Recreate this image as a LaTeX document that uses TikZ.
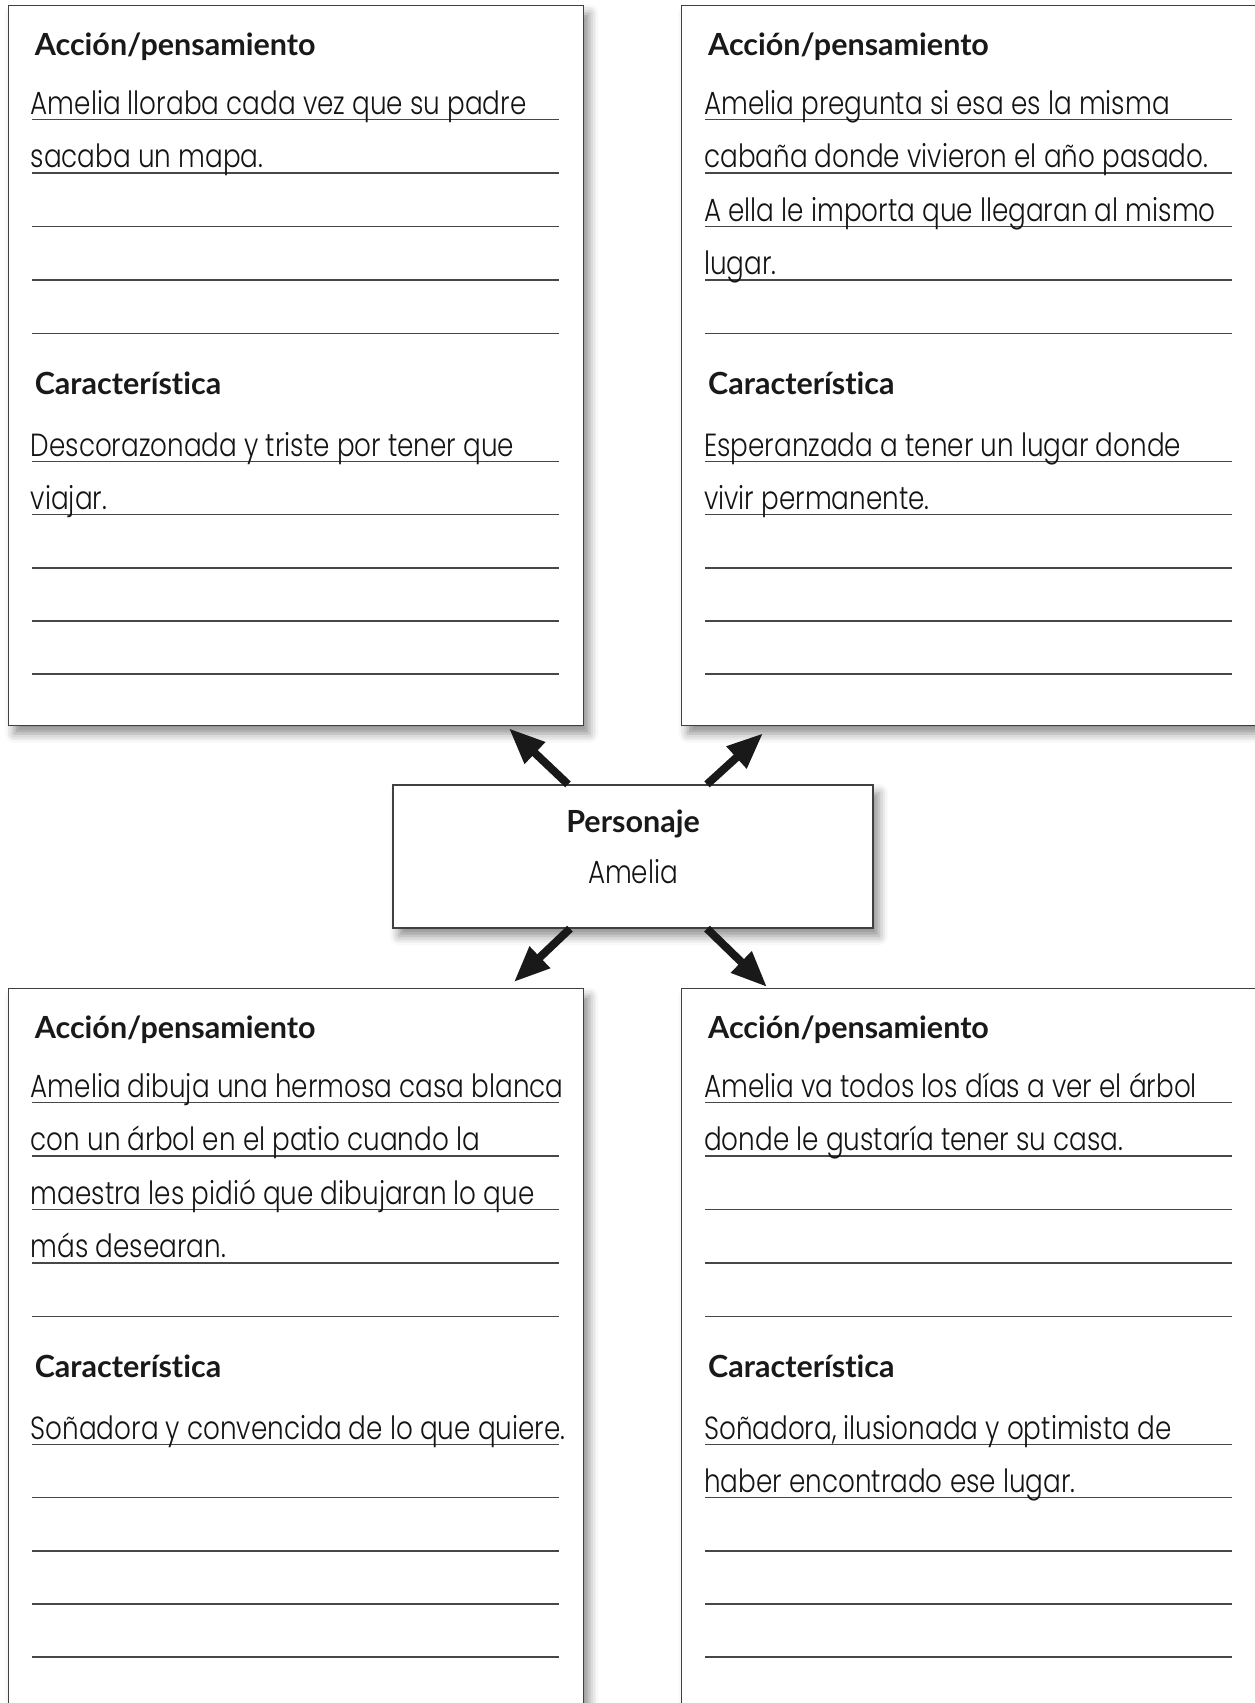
\documentclass[tikz,border=0pt]{standalone}
\usepackage{fontspec}
\newfontfamily\handfont{Poppins Light}[FakeStretch=0.82]
\newfontfamily\headfont{Lato}[Ligatures=NoCommon]
\usetikzlibrary{arrows.meta,shadows.blur}
\tikzset{
  panel/.style={draw=black!75, line width=1.3pt, fill=white, inner sep=0pt,
    minimum width=575pt, minimum height=720pt, anchor=north west,
    blur shadow={shadow xshift=6pt, shadow yshift=-8pt,
      shadow blur radius=9pt, shadow opacity=45}},
  centerbox/.style={panel, minimum width=480pt, minimum height=143pt, anchor=center},
  rule/.style={draw=black!72, line width=1.6pt},
  head/.style={font=\headfont\bfseries\fontsize{30.5}{34}\selectfont,
    text=black!90, anchor=base west, inner sep=0pt},
  hand/.style={font=\handfont\fontsize{32}{36}\selectfont,
    text=black!92, anchor=base west, inner sep=0pt},
  link/.style={-{Triangle[length=36pt, width=28pt]}, line width=8pt, black!90},
}
% frame, headings and writing lines of one panel (local coordinates)
\newcommand{\panelframe}[1]{%
  \node[panel] (#1) at (0,0) {};
  \foreach \ly in {114.4,167.9,221.4,274.9,328.4,456.4,509.6,562.8,616,669.2}
    \draw[rule] (24,\ly) -- (551,\ly);
  \node[head] (#1-act) at (27,50) {Acción/pensamiento};
  \node[head] (#1-car) at (27,389) {Característica};
}

\begin{document}
\begin{tikzpicture}[x=1pt, y=-1pt]
  \useasboundingbox (0,0) rectangle (1255,1703);

  % Top left panel
  \begin{scope}[shift={(7.6,5)}]
    \panelframe{tl}
    \node[hand] (tl-a1) at (23,109.4) {Amelia lloraba cada vez que su padre};
    \node[hand] (tl-a2) at (23,162.9) {sacaba un mapa.};
    \node[hand] (tl-c1) at (23,451.4) {Descorazonada y triste por tener que};
    \node[hand] (tl-c2) at (23,504.6) {viajar.};
  \end{scope}

  % Top right panel
  \begin{scope}[shift={(681,5)}]
    \panelframe{tr}
    \node[hand] (tr-a1) at (23,109.4) {Amelia pregunta si esa es la misma};
    \node[hand] (tr-a2) at (23,162.9) {cabaña donde vivieron el año pasado.};
    \node[hand] (tr-a3) at (23,216.4) {A ella le importa que llegaran al mismo};
    \node[hand] (tr-a4) at (23,269.9) {lugar.};
    \node[hand] (tr-c1) at (23,451.4) {Esperanzada a tener un lugar donde};
    \node[hand] (tr-c2) at (23,504.6) {vivir permanente.};
  \end{scope}

  % Bottom left panel
  \begin{scope}[shift={(7.6,988)}]
    \panelframe{bl}
    \node[hand] (bl-a1) at (23,109.4) {Amelia dibuja una hermosa casa blanca};
    \node[hand] (bl-a2) at (23,162.9) {con un árbol en el patio cuando la};
    \node[hand] (bl-a3) at (23,216.4) {maestra les pidió que dibujaran lo que};
    \node[hand] (bl-a4) at (23,269.9) {más desearan.};
    \node[hand] (bl-c1) at (23,451.4) {Soñadora y convencida de lo que quiere.};
  \end{scope}

  % Bottom right panel
  \begin{scope}[shift={(681,988)}]
    \panelframe{br}
    \node[hand] (br-a1) at (23,109.4) {Amelia va todos los días a ver el árbol};
    \node[hand] (br-a2) at (23,162.9) {donde le gustaría tener su casa.};
    \node[hand] (br-c1) at (23,451.4) {Soñadora, ilusionada y optimista de};
    \node[hand] (br-c2) at (23,504.6) {haber encontrado ese lugar.};
  \end{scope}

  % Character box
  \node[centerbox] (pers) at (633,856.5) {};
  \node[head, anchor=base] (pers-t) at (633,832) {Personaje};
  \node[hand, anchor=base] (pers-n) at (633,883) {Amelia};

  % Arrows out to the panels
  \draw[link] ([xshift=-65pt]pers.north) -- ([xshift=-75pt,yshift=-2pt]tl.south east);
  \draw[link] ([xshift=74pt]pers.north) -- ([xshift=82pt,yshift=-7pt]tr.south west);
  \draw[link] ([xshift=-63pt]pers.south) -- ([xshift=-70pt,yshift=6pt]bl.north east);
  \draw[link] ([xshift=74pt]pers.south) -- ([xshift=86pt,yshift=1pt]br.north west);

\end{tikzpicture}
\end{document}
